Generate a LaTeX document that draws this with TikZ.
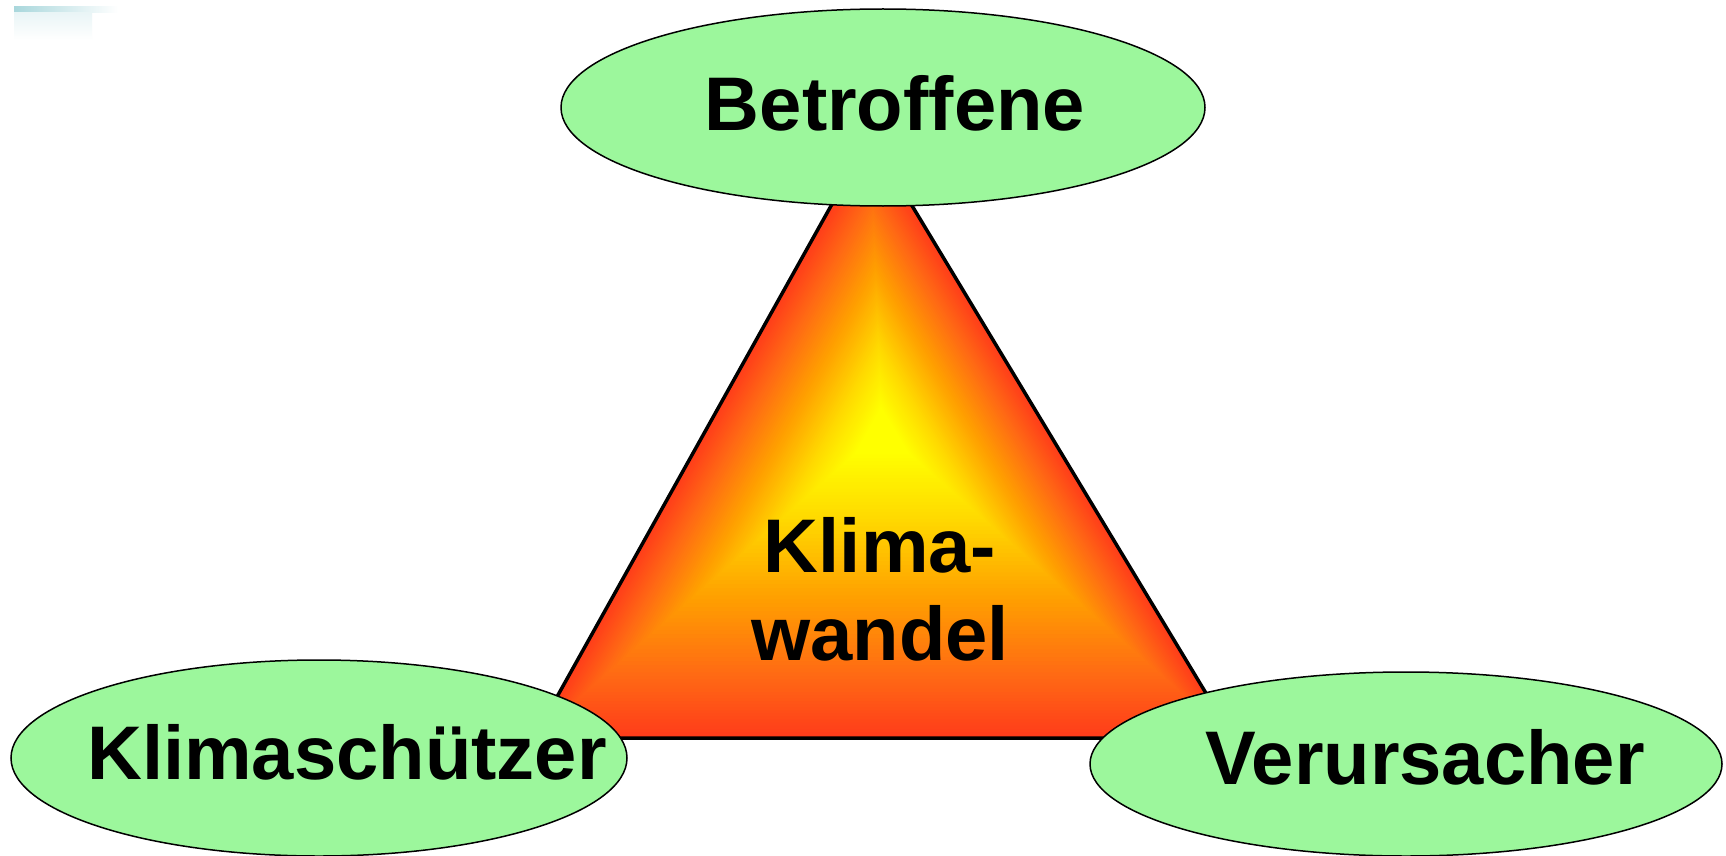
\documentclass[tikz,border=0pt]{standalone}
\usepackage{fontspec}
\setmainfont{Liberation Sans}
\usetikzlibrary{shapes.geometric,calc}
\definecolor{blobgreen}{HTML}{9CF79C}
\definecolor{kyel}{HTML}{FFFF00}
\definecolor{kyel2}{HTML}{FFD800}
\definecolor{kora}{HTML}{FFA000}
\definecolor{kora2}{HTML}{FF6A14}
\definecolor{kred}{HTML}{FF3C1A}
\definecolor{artcyan}{HTML}{A9D7DC}
% nested triangles from t=#1 to t=#2, colour from #3 to #4
\newcommand\trisegment[4]{%
  \foreach \k in {0,...,19} {%
    \pgfmathsetmacro\tval{#1-(#1-#2)*\k/20}%
    \pgfmathsetmacro\pval{100*\k/20}%
    \fill[#4!\pval!#3] ($(ctr)!\tval!(apex)$) -- ($(ctr)!\tval!(bl)$) -- ($(ctr)!\tval!(br)$) -- cycle;
  }}
\begin{document}
\begin{tikzpicture}[x=1pt,y=-1pt,
  blob/.style={ellipse, draw=black, line width=1.5pt, fill=blobgreen, inner sep=0pt},
  lbl/.style={font=\bfseries\fontsize{76}{88}\selectfont, inner sep=0pt, align=center}]
\useasboundingbox (0,0) rectangle (1726,856);
\fill[white] (0,0) rectangle (1726,856);
% faint remnant in the top-left corner
\shade[left color=artcyan, right color=white] (14,7) rectangle (118,13);
\shade[top color=artcyan!25, bottom color=white] (14,13) rectangle (92,40);
% triangle
\coordinate (apex) at (870,136);
\coordinate (bl) at (534,738);
\coordinate (br) at (1233,738);
\coordinate (ctr) at (882,430);
\trisegment{1.00}{0.80}{kred}{kora2}
\trisegment{0.80}{0.55}{kora2}{kora}
\trisegment{0.55}{0.30}{kora}{kyel2}
\trisegment{0.30}{0.08}{kyel2}{kyel}
\fill[kyel] ($(ctr)!0.08!(apex)$) -- ($(ctr)!0.08!(bl)$) -- ($(ctr)!0.08!(br)$) -- cycle;
\draw[line width=3.5pt, line join=round] (apex) -- (bl) -- (br) -- cycle;
\node[lbl] (kw) at (880,589) {Klima-\\wandel};
% ellipses
\node[blob, minimum width=644pt, minimum height=197pt] (top) at (883,107.5) {};
\node[lbl] (topt) at (895,103) {Betroffene};
\node[blob, minimum width=616pt, minimum height=196pt] (left) at (319,758) {};
\node[lbl] (leftt) at (347,752) {Klimaschützer};
\node[blob, minimum width=632pt, minimum height=184pt] (right) at (1406,764) {};
\node[lbl] (rightt) at (1425,757) {Verursacher};
\end{tikzpicture}
\end{document}
